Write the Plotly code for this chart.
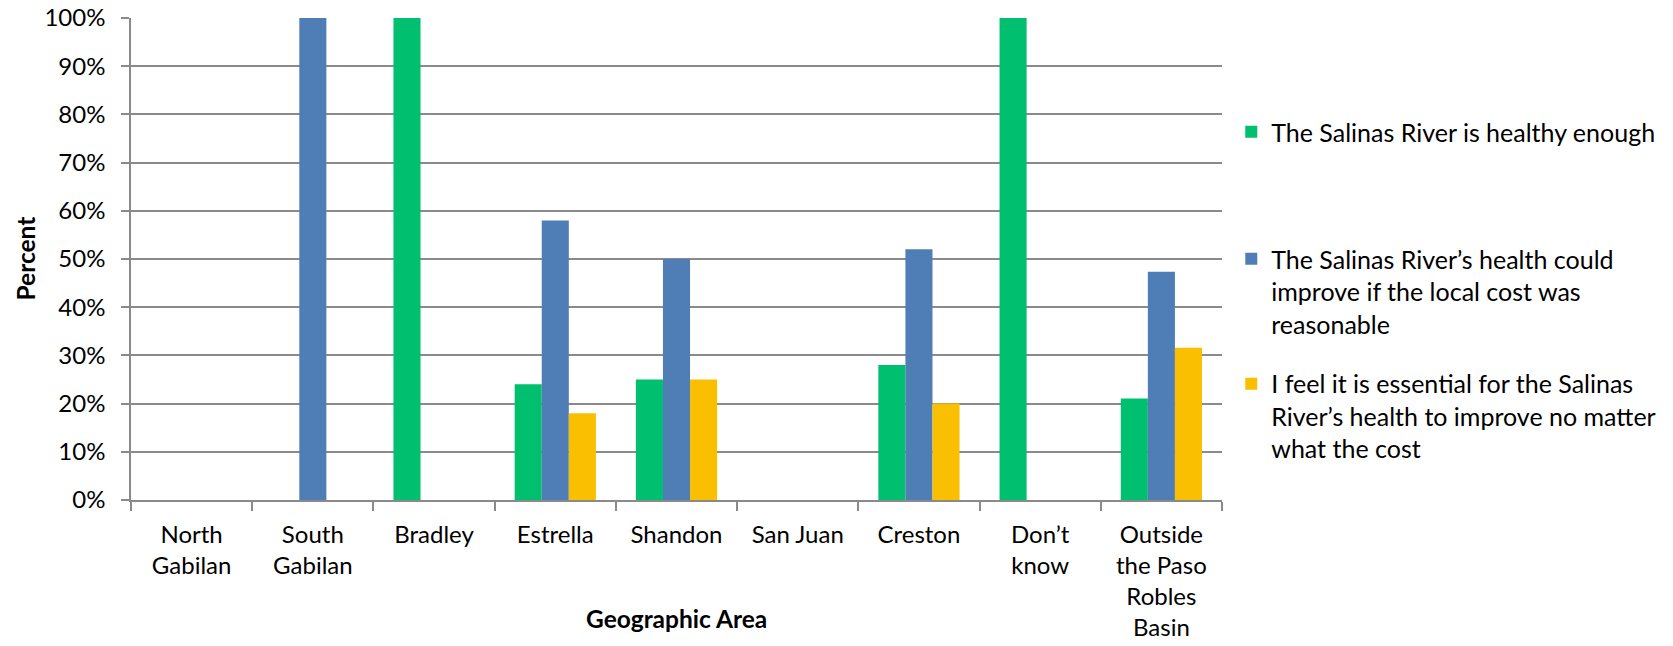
import plotly.graph_objects as go

# Survey responses by geographic area (percent of respondents)
areas = ["North<br>Gabilan", "South<br>Gabilan", "Bradley", "Estrella", "Shandon",
         "San Juan", "Creston", "Don’t<br>know", "Outside<br>the Paso<br>Robles<br>Basin"]
healthy_enough = [0, 0, 100, 24, 25, 0, 28, 100, 21.05]
improve_if_reasonable = [0, 100, 0, 58, 50, 0, 52, 0, 47.37]
improve_no_matter_cost = [0, 0, 0, 18, 25, 0, 20, 0, 31.58]

series_names = [
    "The Salinas River is healthy enough",
    "The Salinas River’s health could<br>improve if the local cost was<br>reasonable",
    "I feel it is essential for the Salinas<br>River’s health to improve no matter<br>what the cost",
]
series_colors = ["#00BF6F", "#4F7EB6", "#F9BF00"]
y_tick_vals = list(range(0, 101, 10))
y_tick_text = [f"{v}%" for v in y_tick_vals]

FONT = "Lato, Carlito, Calibri, sans-serif"
GRID = "#8A8A8A"

fig = go.Figure()
for vals, name, color, leg in zip(
    [healthy_enough, improve_if_reasonable, improve_no_matter_cost],
    series_names, series_colors, ["legend", "legend2", "legend3"],
):
    fig.add_trace(go.Bar(
        x=areas, y=vals, name=name, marker_color=color,
        marker_line_width=0, legend=leg,
    ))

legend_common = dict(
    xanchor="left", yanchor="top", valign="top",
    font=dict(family=FONT, size=25, color="#000000"),
    bgcolor="rgba(0,0,0,0)", borderwidth=0,
)

fig.update_layout(
    template="none",
    width=1673, height=646,
    margin=dict(l=131, r=451, t=18, b=146, pad=0),
    paper_bgcolor="white", plot_bgcolor="white",
    barmode="group", bargap=0.33, bargroupgap=0,
    font=dict(family=FONT, size=24, color="#000000"),
    showlegend=True,
    legend=dict(x=1.0085, y=0.811, **legend_common),
    legend2=dict(x=1.0085, y=0.5477, **legend_common),
    legend3=dict(x=1.0085, y=0.2884, **legend_common),
    xaxis=dict(
        type="category", tickson="boundaries", automargin=False,
        ticks="outside", ticklen=9, tickwidth=1.5, tickcolor=GRID,
        showline=True, linecolor=GRID, linewidth=1.5,
        showgrid=False, range=[-0.5, 8.5],
        tickfont=dict(family=FONT, size=24, color="#000000"),
        ticklabelstandoff=12,
    ),
    yaxis=dict(
        range=[0, 100], tickmode="array", tickvals=y_tick_vals, ticktext=y_tick_text,
        automargin=False,
        ticks="outside", ticklen=8, tickwidth=1.5, tickcolor=GRID,
        showline=True, linecolor=GRID, linewidth=1.5,
        showgrid=True, gridcolor=GRID, gridwidth=1.5,
        zeroline=False,
        tickfont=dict(family=FONT, size=24, color="#000000"),
        ticklabelstandoff=11,
    ),
    annotations=[
        dict(text="<b>Geographic Area</b>", xref="paper", yref="paper",
             x=0.5, y=-0.2465, xanchor="center", yanchor="middle",
             showarrow=False, font=dict(family=FONT, size=24.5, color="#000000")),
        dict(text="<b>Percent</b>", xref="paper", yref="paper",
             x=-0.0976, y=0.5, xanchor="center", yanchor="middle", textangle=-90,
             showarrow=False, font=dict(family=FONT, size=24.5, color="#000000")),
    ],
)

fig.write_html("out.html")
